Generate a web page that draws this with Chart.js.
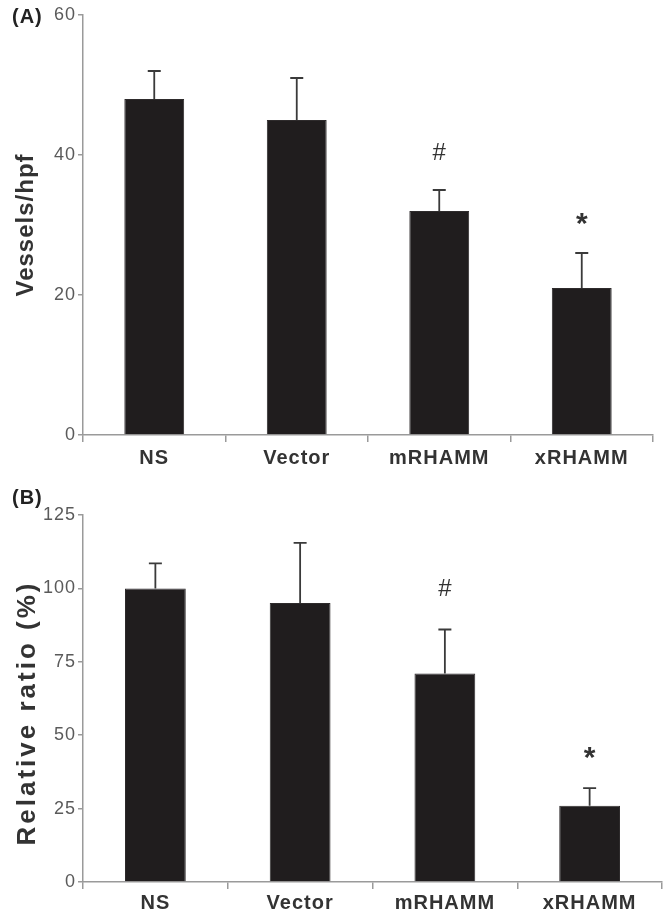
<!DOCTYPE html>
<html>
<head>
<meta charset="utf-8">
<script src="https://cdn.jsdelivr.net/npm/chart.js@4/dist/chart.umd.min.js"></script>
<style>
  html, body { margin:0; padding:0; background:#fff; }
  #wrap { position:relative; width:667px; height:912px; overflow:hidden; }
  .panel { position:absolute; left:0; width:667px; }
  #pa { top:0; height:480px; }
  #pb { top:480px; height:432px; }
</style>
</head>
<body>
<div id="wrap">
  <div class="panel" id="pa"><canvas id="ca"></canvas></div>
  <div class="panel" id="pb"><canvas id="cb"></canvas></div>
</div>
<script>
const categories = ['NS', 'Vector', 'mRHAMM', 'xRHAMM'];
const vesselsMean = [48, 45, 32, 21];
const vesselsErr = [4, 6, 3, 5];
const ratioMean = [100, 95, 71, 26];
const ratioErr = [8.5, 20.5, 15, 6];
const marks = ['', '', '#', '*'];
const vesselsTicks = [0, 20, 40, 60];
const ratioTicks = [0, 25, 50, 75, 100, 125];

const FONT = '"Liberation Sans", Arial, Helvetica, sans-serif';
const AXIS = '#9a9a9a';

const figPlugin = {
  id: 'fig',
  beforeDraw(chart) { chart.ctx.letterSpacing = '1px'; },
  afterDatasetsDraw(chart, args, o) {
    const ctx = chart.ctx, x = chart.scales.x, y = chart.scales.y;
    ctx.save();
    o.means.forEach((m, i) => {
      const px = x.getPixelForValue(i);
      const y0 = y.getPixelForValue(m);
      const y1 = y.getPixelForValue(m + o.errs[i]);
      ctx.strokeStyle = '#3a3a3a';
      ctx.lineWidth = 1.8;
      ctx.beginPath();
      ctx.moveTo(px, y0); ctx.lineTo(px, y1);
      ctx.moveTo(px - 6.5, y1); ctx.lineTo(px + 6.5, y1);
      ctx.stroke();
      const s = o.marks[i];
      if (s) {
        ctx.fillStyle = '#333';
        ctx.textAlign = 'center';
        ctx.textBaseline = 'alphabetic';
        ctx.letterSpacing = '0px';
        if (s === '#') {
          ctx.font = '24px ' + FONT;
          ctx.fillText(s, px, y1 - o.hashOff);
        } else {
          ctx.font = 'bold 30px ' + FONT;
          ctx.fillText(s, px, y1 - o.starOff);
        }
      }
    });
    // panel label
    ctx.letterSpacing = '1px';
    ctx.fillStyle = '#222';
    ctx.font = 'bold 20px ' + FONT;
    ctx.textAlign = 'left';
    ctx.textBaseline = 'middle';
    ctx.fillText(o.panel, 12, o.panelY);
    // y title
    ctx.save();
    ctx.translate(o.titleX, o.titleY);
    ctx.rotate(-Math.PI / 2);
    ctx.letterSpacing = o.titleSpacing;
    ctx.font = 'bold ' + o.titleSize + 'px ' + FONT;
    ctx.fillStyle = '#333';
    ctx.textAlign = 'center';
    ctx.textBaseline = 'middle';
    ctx.fillText(o.title, 0, 0);
    ctx.restore();
    ctx.restore();
  }
};

function makeChart(id, means, errs, ticks, maxV, pad, yWidth, xHeight, xPad, extra) {
  return new Chart(document.getElementById(id), {
    type: 'bar',
    data: {
      labels: categories,
      datasets: [{
        data: means,
        backgroundColor: '#201d1e',
        borderColor: '#2e2b2c',
        borderWidth: 1,
        barPercentage: 0.42,
        categoryPercentage: 1.0
      }]
    },
    options: {
      responsive: true,
      maintainAspectRatio: false,
      animation: false,
      layout: { padding: pad },
      plugins: {
        legend: { display: false },
        tooltip: { enabled: false },
        fig: Object.assign({ means: means, errs: errs, marks: marks }, extra)
      },
      scales: {
        x: {
          offset: true,
          grid: { display: true, offset: true, drawOnChartArea: false, drawTicks: true, tickLength: 7, color: AXIS, lineWidth: 1.5 },
          border: { display: true, color: AXIS, width: 1.5 },
          ticks: { color: '#333', padding: xPad, font: { family: FONT, size: 20, weight: 'bold' } },
          afterFit(s) { s.height = xHeight; }
        },
        y: {
          min: 0, max: maxV,
          grid: { display: true, drawOnChartArea: false, drawTicks: true, tickLength: 5, color: AXIS, lineWidth: 1.5 },
          border: { display: true, color: AXIS, width: 1.5 },
          ticks: { color: '#5a5a5a', padding: 2, font: { family: FONT, size: 18 } },
          afterBuildTicks(s) { s.ticks = ticks.map(v => ({ value: v })); },
          afterFit(s) { s.width = yWidth; }
        }
      }
    },
    plugins: [figPlugin]
  });
}

makeChart('ca', vesselsMean, vesselsErr, vesselsTicks, 60,
  { top: 15, right: 14, left: 0, bottom: 0 }, 83, 45, 4,
  { panel: '(A)', panelY: 17, title: 'Vessels/hpf', titleX: 26, titleY: 225, titleSize: 24, titleSpacing: '1px', hashOff: 30, starOff: 20 });

makeChart('cb', ratioMean, ratioErr, ratioTicks, 125,
  { top: 35, right: 5, left: 0, bottom: 0 }, 83, 30, 2,
  { panel: '(B)', panelY: 18, title: 'Relative ratio (%)', titleX: 28, titleY: 233, titleSize: 26, titleSpacing: '3px', hashOff: 34, starOff: 21 });
</script>
</body>
</html>
